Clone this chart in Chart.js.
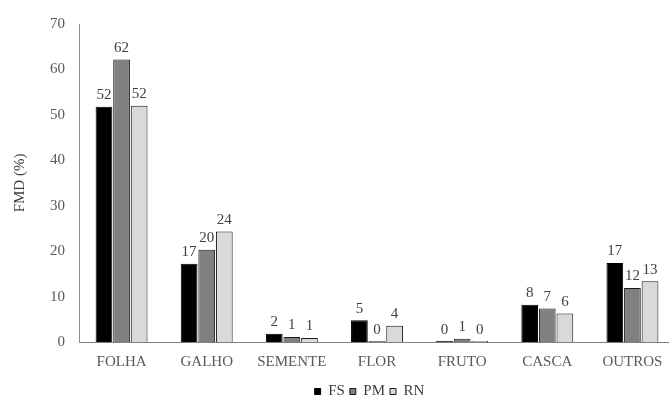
<!DOCTYPE html>
<html><head><meta charset="utf-8">
<script src="https://cdn.jsdelivr.net/npm/chart.js@4/dist/chart.umd.min.js"></script>
<style>html,body{margin:0;padding:0;background:#fff;overflow:hidden;width:669px;height:399px}
#wrap{position:absolute;left:0;top:0;width:675px;height:399px}</style>
</head><body>
<div id="wrap"><canvas id="c" width="675" height="399"></canvas></div>
<script>
const categories = ["FOLHA","GALHO","SEMENTE","FLOR","FRUTO","CASCA","OUTROS"];
const seriesNames = ["FS","PM","RN"];
const fsValues = [51.8, 17.2, 1.8, 4.8, 0.2, 8.2, 17.4];
const pmValues = [62.2, 20.3, 1.1, 0.2, 0.7, 7.4, 11.9];
const rnValues = [52.0, 24.3, 0.9, 3.6, 0.2, 6.3, 13.4];
const yTicks = [0,10,20,30,40,50,60,70];

const FONT = "'Liberation Serif','Times New Roman',serif";

const labelPlugin = {
  id: 'barLabels',
  afterLayout(chart) {
    const lg = chart.legend;
    if (lg) { lg.left += 32; lg.right += 32; lg.top += 10; lg.bottom += 10; }
  },
  afterDatasetsDraw(chart) {
    const ctx = chart.ctx;
    ctx.save();
    ctx.font = "15px " + FONT;
    ctx.fillStyle = "#404040";
    ctx.textAlign = "center";
    ctx.textBaseline = "bottom";
    chart.data.datasets.forEach((ds, i) => {
      chart.getDatasetMeta(i).data.forEach((bar, j) => {
        ctx.fillText(String(Math.round(ds.data[j])), bar.x, bar.y - 4);
      });
    });
    ctx.restore();
  }
};

new Chart(document.getElementById('c'), {
  type: 'bar',
  data: {
    labels: categories,
    datasets: [
      {label: seriesNames[0], data: fsValues, backgroundColor: "#000000", borderColor: "#000000", borderWidth: 1},
      {label: seriesNames[1], data: pmValues, backgroundColor: "#808080", borderColor: "#1a1a1a", borderWidth: 1},
      {label: seriesNames[2], data: rnValues, backgroundColor: "#d9d9d9", borderColor: "#1a1a1a", borderWidth: 1}
    ]
  },
  options: {
    responsive: false,
    animation: false,
    devicePixelRatio: 1,
    layout: {padding: {top: 24, right: 0, bottom: 0, left: 0}},
    datasets: {bar: {categoryPercentage: 0.62, barPercentage: 0.95}},
    plugins: {
      tooltip: {enabled: false},
      legend: {
        position: 'bottom',
        labels: {
          font: {family: FONT, size: 15},
          color: "#404040",
          boxWidth: 6, boxHeight: 6,
          padding: 5
        }
      }
    },
    scales: {
      x: {
        grid: {display: false, drawTicks: false},
        border: {display: true, color: "#7f7f7f", width: 1},
        ticks: {font: {family: FONT, size: 15}, color: "#595959", padding: 11, maxRotation: 0, autoSkip: false},
        afterFit(s) { s.height = 27; }
      },
      y: {
        min: 0, max: 70,
        afterBuildTicks(s) { s.ticks = yTicks.map(v => ({value: v})); },
        grid: {display: false, drawTicks: false},
        border: {display: true, color: "#8c8c8c", width: 1},
        ticks: {font: {family: FONT, size: 15}, color: "#595959", padding: 14},
        title: {display: true, text: "FMD (%)", font: {family: FONT, size: 15}, color: "#404040", padding: {top: 11, bottom: 0}},
        afterFit(s) { s.width = 79; }
      }
    }
  },
  plugins: [labelPlugin]
});
</script>
</body></html>
